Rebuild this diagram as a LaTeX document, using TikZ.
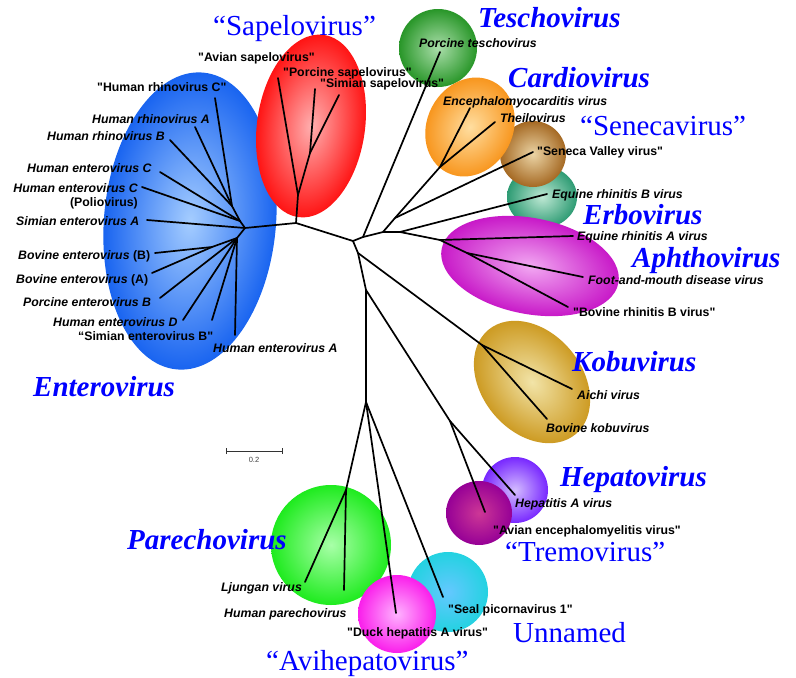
\documentclass[tikz,border=0pt]{standalone}
\usepackage{fontspec}
\setmainfont{Liberation Sans}[Ligatures=TeXOff]
\newfontfamily\genfont{Liberation Serif}
\usetikzlibrary{arrows.meta}
\definecolor{gblue}{RGB}{0,0,255}
\definecolor{blueO}{RGB}{25,100,240}\definecolor{blueI}{RGB}{165,205,255}
\definecolor{redO}{RGB}{255,20,20}\definecolor{redI}{RGB}{255,175,175}
\definecolor{tesO}{RGB}{40,150,40}\definecolor{tesI}{RGB}{170,222,170}
\definecolor{carO}{RGB}{248,150,30}\definecolor{carI}{RGB}{255,222,160}
\definecolor{senO}{RGB}{165,105,35}\definecolor{senI}{RGB}{235,212,165}
\definecolor{erbO}{RGB}{45,155,115}\definecolor{erbI}{RGB}{190,232,212}
\definecolor{aphO}{RGB}{200,25,200}\definecolor{aphI}{RGB}{242,168,242}
\definecolor{kobO}{RGB}{205,155,35}\definecolor{kobI}{RGB}{242,228,168}
\definecolor{hepO}{RGB}{120,40,255}\definecolor{hepI}{RGB}{212,188,255}
\definecolor{treO}{RGB}{150,0,150}\definecolor{treI}{RGB}{205,55,150}
\definecolor{parO}{RGB}{30,235,30}\definecolor{parI}{RGB}{168,255,168}
\definecolor{aviO}{RGB}{250,30,235}\definecolor{aviI}{RGB}{255,178,255}
\definecolor{unnO}{RGB}{35,210,225}\definecolor{unnI}{RGB}{100,200,255}
\begin{document}
\begin{tikzpicture}[x=1pt,y=-1pt,
  br/.style={line width=1.7pt, line join=round, line cap=round},
  sp/.style={inner sep=0pt, anchor=base west, font=\fontsize{12.3}{14}\selectfont\bfseries\itshape},
  spq/.style={inner sep=0pt, anchor=base west, font=\fontsize{12.3}{14}\selectfont\bfseries},
  gen/.style={inner sep=0pt, anchor=base west, text=gblue, font=\genfont\fontsize{29}{32}\selectfont\bfseries\itshape},
  genq/.style={inner sep=0pt, anchor=base west, text=gblue, font=\genfont\fontsize{29}{32}\selectfont},
]
\useasboundingbox[fill=white] (0,0) rectangle (796,678);

% ---------- coloured blobs ----------
\shade[inner color=blueI, outer color=blueO, transform canvas={rotate around={-5:(190,221)}}] (190,221) ellipse [x radius=86pt, y radius=149pt];
\shade[inner color=redI, outer color=redO, transform canvas={rotate around={-8:(311,126)}}] (311,126) ellipse [x radius=54pt, y radius=92pt];
\shade[inner color=tesI, outer color=tesO] (438,48) circle [radius=39pt];
\shade[inner color=erbI, outer color=erbO] (542,197) ellipse [x radius=35pt, y radius=31pt];
\shade[inner color=senI, outer color=senO] (533,154) circle [radius=33pt];
\shade[inner color=carI, outer color=carO, transform canvas={rotate around={-27:(470,127)}}] (470,127) ellipse [x radius=43pt, y radius=51pt];
\shade[inner color=aphI, outer color=aphO, transform canvas={rotate around={-11:(530,266)}}] (530,266) ellipse [x radius=90pt, y radius=48pt];
\shade[inner color=kobI, outer color=kobO, transform canvas={rotate around={40:(532,382)}}] (532,382) ellipse [x radius=50pt, y radius=68pt];
\shade[inner color=hepI, outer color=hepO] (515,490) circle [radius=33pt];
\shade[inner color=treI, outer color=treO] (479,513) ellipse [x radius=33pt, y radius=32pt];
\shade[inner color=parI, outer color=parO] (331,545) circle [radius=60pt];
\shade[inner color=unnI, outer color=unnO] (448,592) circle [radius=40pt];
\shade[inner color=aviI, outer color=aviO] (397,614) circle [radius=39pt];

% ---------- tree coordinates ----------
\coordinate (R) at (353,241);
\coordinate (SB) at (296,223); \coordinate (SA) at (298,195); \coordinate (SP) at (310,153);
\coordinate (tAvS) at (278,78); \coordinate (tPoS) at (315,89); \coordinate (tSiS) at (339,95);
\coordinate (EN) at (245,228); \coordinate (EU) at (240,221); \coordinate (ER) at (232,206);
\coordinate (tHRVC) at (215,98); \coordinate (tHRVA) at (195,127); \coordinate (tHRVB) at (170,140);
\coordinate (tHEVC) at (160,172); \coordinate (tPolio) at (142,187); \coordinate (tSEVA) at (147,220);
\coordinate (EL) at (237,238); \coordinate (EBV) at (212,247);
\coordinate (tBEVB) at (155,253); \coordinate (tBEVA) at (152,273); \coordinate (tPEVB) at (160,298);
\coordinate (tHEVD) at (183,320); \coordinate (tSEVB) at (212,320); \coordinate (tHEVA) at (235,335);
\coordinate (T1) at (363,237); \coordinate (tTes) at (440,52);
\coordinate (T2) at (383,232); \coordinate (C0) at (395,218); \coordinate (CN) at (440,167);
\coordinate (tEMCV) at (470,108); \coordinate (tThe) at (495,122); \coordinate (tSen) at (533,152);
\coordinate (T3) at (400,232); \coordinate (tEqB) at (547,194); \coordinate (AN) at (440,240);
\coordinate (tEqA) at (573,236); \coordinate (AS) at (467,253);
\coordinate (tFMDV) at (583,277); \coordinate (tBRBV) at (568,307);
\coordinate (D1) at (358,253); \coordinate (KN) at (482,345);
\coordinate (tAichi) at (572,389); \coordinate (tBKV) at (547,419);
\coordinate (D2) at (366,290); \coordinate (HN) at (450,421);
\coordinate (tHAV) at (515,495); \coordinate (tAEV) at (485,512);
\coordinate (D3) at (366,402); \coordinate (PN) at (346,490);
\coordinate (tLju) at (305,582); \coordinate (tHPeV) at (344,590);
\coordinate (tDuck) at (396,613); \coordinate (tSeal) at (443,597);

% ---------- tree branches ----------
\draw[br] (R) -- (SB) -- (EN);
\draw[br] (SB) -- (SA) -- (tAvS);
\draw[br] (SA) -- (SP) -- (tPoS);
\draw[br] (SP) -- (tSiS);
\draw[br] (EN) -- (EU) -- (ER) -- (tHRVC);
\draw[br] (ER) -- (tHRVA);
\draw[br] (ER) -- (tHRVB);
\draw[br] (EU) -- (tHEVC);
\draw[br] (EU) -- (tPolio);
\draw[br] (EN) -- (tSEVA);
\draw[br] (EN) -- (EL) -- (EBV) -- (tBEVB);
\draw[br] (EBV) -- (tBEVA);
\draw[br] (EL) -- (tPEVB);
\draw[br] (EL) -- (tHEVD);
\draw[br] (EL) -- (tSEVB);
\draw[br] (EL) -- (tHEVA);
\draw[br] (R) -- (T1) -- (tTes);
\draw[br] (T1) -- (T2) -- (C0) -- (CN) -- (tEMCV);
\draw[br] (CN) -- (tThe);
\draw[br] (C0) -- (tSen);
\draw[br] (T2) -- (T3) -- (tEqB);
\draw[br] (T3) -- (AN) -- (tEqA);
\draw[br] (AN) -- (AS) -- (tFMDV);
\draw[br] (AS) -- (tBRBV);
\draw[br] (R) -- (D1) -- (D2) -- (D3);
\draw[br] (D1) -- (KN) -- (tAichi);
\draw[br] (KN) -- (tBKV);
\draw[br] (D2) -- (HN) -- (tHAV);
\draw[br] (HN) -- (tAEV);
\draw[br] (D3) -- (PN) -- (tLju);
\draw[br] (PN) -- (tHPeV);
\draw[br] (D3) -- (tDuck);
\draw[br] (D3) -- (tSeal);

% ---------- scale bar ----------
\coordinate (sbL) at (226,451); \coordinate (sbR) at (283,451);
\draw[line width=1pt, black!80, {Bar[width=6pt]}-{Bar[width=6pt]}] (sbL) -- (sbR);
\node[inner sep=0pt, text=black!75, font=\fontsize{7.5}{9}\selectfont] (sbT) at (254,460) {0.2};

% ---------- species labels ----------
\node[spq] (lHRVC) at (97,91.5) {"Human rhinovirus C"};
\node[sp] (lHRVA) at (92,123.5) {Human rhinovirus A};
\node[sp] (lHRVB) at (47,140.5) {Human rhinovirus B};
\node[sp] (lHEVC) at (27,172.5) {Human enterovirus C};
\node[sp, anchor=north east, align=right] (lPolio) at (138,183.5) {Human enterovirus C\\\textup{(Poliovirus)}};
\node[sp] (lSEVA) at (16,225.5) {Simian enterovirus A};
\node[sp] (lBEVB) at (18,259.5) {Bovine enterovirus \textup{(B)}};
\node[sp] (lBEVA) at (16,283.5) {Bovine enterovirus \textup{(A)}};
\node[sp] (lPEVB) at (23,306.5) {Porcine enterovirus B};
\node[sp] (lHEVD) at (53,326.5) {Human enterovirus D};
\node[spq] (lSEVB) at (78,340.5) {“Simian enterovirus B"};
\node[sp] (lHEVA) at (213,352.5) {Human enterovirus A};
\node[spq] (lAvS) at (198,61.5) {"Avian sapelovirus"};
\node[spq] (lPoS) at (283,76.5) {"Porcine sapelovirus"};
\node[spq] (lSiS) at (320,87.5) {"Simian sapelovirus"};
\node[sp] (lTes) at (419,47.5) {Porcine teschovirus};
\node[sp] (lEMCV) at (443,105.5) {Encephalomyocarditis virus};
\node[sp] (lThe) at (500,122.5) {Theilovirus};
\node[spq] (lSen) at (537,155.5) {"Seneca Valley virus"};
\node[sp] (lEqB) at (552,198.5) {Equine rhinitis B virus};
\node[sp] (lEqA) at (577,240.5) {Equine rhinitis A virus};
\node[sp] (lFMDV) at (588,284.5) {Foot-and-mouth disease virus};
\node[spq] (lBRBV) at (573,316.5) {"Bovine rhinitis B virus"};
\node[sp] (lAichi) at (577,399.5) {Aichi virus};
\node[sp] (lBKV) at (546,432.5) {Bovine kobuvirus};
\node[sp] (lHAV) at (515,507.5) {Hepatitis A virus};
\node[spq] (lAEV) at (493,534.5) {"Avian encephalomyelitis virus"};
\node[sp] (lLju) at (221,591.5) {Ljungan virus};
\node[sp] (lHPeV) at (224,617.5) {Human parechovirus};
\node[spq] (lDuck) at (347,636.5) {"Duck hepatitis A virus"};
\node[spq] (lSeal) at (448,613) {"Seal picornavirus 1"};

% ---------- genus labels ----------
\node[gen] (gEnt) at (33,396) {Enterovirus};
\node[genq] (gSap) at (213,35) {“Sapelovirus”};
\node[gen] (gTes) at (478,27) {Teschovirus};
\node[gen] (gCar) at (508,87) {Cardiovirus};
\node[genq] (gSen) at (580,135) {“Senecavirus”};
\node[gen] (gErb) at (583,224) {Erbovirus};
\node[gen] (gAph) at (632,267) {Aphthovirus};
\node[gen] (gKob) at (572,371) {Kobuvirus};
\node[gen] (gHep) at (560,486) {Hepatovirus};
\node[genq] (gTre) at (505,561) {“Tremovirus”};
\node[genq] (gUnn) at (513,642) {Unnamed};
\node[genq] (gAvi) at (266,670) {“Avihepatovirus”};
\node[gen] (gPar) at (127,549) {Parechovirus};
\end{tikzpicture}
\end{document}
